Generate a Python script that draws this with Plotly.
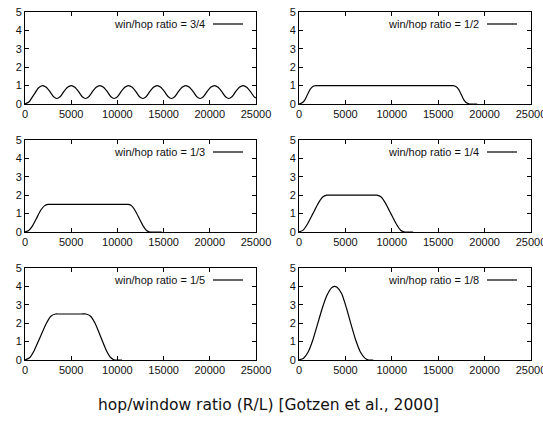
import plotly.graph_objects as go

# ---- data ----
labels = ["win/hop ratio = 3/4", "win/hop ratio = 1/2", "win/hop ratio = 1/3",
          "win/hop ratio = 1/4", "win/hop ratio = 1/5", "win/hop ratio = 1/8"]

x_34 = [0, 450, 950, 1450, 1900,
        2300, 2700, 3100, 3450, 3800, 4200, 4600, 5000,
        5400, 5800, 6200, 6550, 6900, 7300, 7700, 8100,
        8500, 8900, 9300, 9650, 10000, 10400, 10800, 11200,
        11600, 12000, 12400, 12750, 13100, 13500, 13900, 14300,
        14700, 15100, 15500, 15850, 16200, 16600, 17000, 17400,
        17800, 18200, 18600, 18950, 19300, 19700, 20100, 20500,
        20900, 21300, 21700, 22050, 22400, 22800, 23200, 23600,
        24000, 24400, 24800, 25000]
y_34 = [0, 0.12, 0.5, 0.87, 1.0,
        0.91, 0.67, 0.39, 0.3, 0.39, 0.67, 0.91, 1.0,
        0.91, 0.67, 0.39, 0.3, 0.39, 0.67, 0.91, 1.0,
        0.91, 0.67, 0.39, 0.3, 0.39, 0.67, 0.91, 1.0,
        0.91, 0.67, 0.39, 0.3, 0.39, 0.67, 0.91, 1.0,
        0.91, 0.67, 0.39, 0.3, 0.39, 0.67, 0.91, 1.0,
        0.91, 0.67, 0.39, 0.3, 0.39, 0.67, 0.91, 1.0,
        0.91, 0.67, 0.39, 0.3, 0.39, 0.67, 0.91, 1.0,
        0.91, 0.67, 0.39, 0.33]

x_12 = [0, 300, 600, 900, 1200, 1500, 1800, 2100, 2600, 16100, 16600, 16900, 17200, 17500, 17800, 18100, 18400, 18700, 19200]
y_12 = [0, 0.05, 0.2, 0.5, 0.8, 0.95, 1.0, 1.0, 1.0, 1.0, 1.0, 0.95, 0.8, 0.5, 0.2, 0.05, 0, 0, 0]

x_13 = [0, 400, 800, 1250, 1700, 2100, 2500, 2800, 3300, 10700, 11200, 11550, 11900, 12350, 12800, 13150, 13500, 13800, 14800]
y_13 = [0, 0.08, 0.32, 0.75, 1.18, 1.42, 1.5, 1.5, 1.5, 1.5, 1.5, 1.42, 1.18, 0.75, 0.32, 0.08, 0, 0, 0]

x_14 = [0, 450, 900, 1500, 2100, 2550, 3000, 3300, 3800, 7900, 8400, 8850, 9300, 9900, 10500, 10950, 11400, 11700, 12300]
y_14 = [0, 0.1, 0.42, 1.0, 1.58, 1.9, 2.0, 2.0, 2.0, 2.0, 2.0, 1.9, 1.58, 1.0, 0.42, 0.1, 0, 0, 0]

x_15 = [0, 500, 1000, 1650, 2300, 2800, 3300, 3600, 4100, 6100, 6600, 7100, 7600, 8200, 8800, 9300, 9700, 10000, 10500]
y_15 = [0, 0.12, 0.52, 1.25, 1.98, 2.38, 2.5, 2.5, 2.5, 2.5, 2.5, 2.38, 1.98, 1.25, 0.52, 0.12, 0, 0, 0]

x_18 = [0, 500, 1000, 1500, 2000, 2500, 3000, 3500, 3800, 4100, 4600, 5100, 5600, 6100, 6600, 7100, 7500, 8000]
y_18 = [0, 0.1, 0.45, 1.1, 1.95, 2.8, 3.5, 3.92, 4.0, 3.95, 3.6, 2.85, 1.95, 1.1, 0.45, 0.1, 0, 0]

series = [(x_34, y_34), (x_12, y_12), (x_13, y_13), (x_14, y_14), (x_15, y_15), (x_18, y_18)]

x_ticks = [0, 5000, 10000, 15000, 20000, 25000]
y_ticks = [0, 1, 2, 3, 4, 5]

# ---- layout geometry (pixels) ----
W, H = 543, 423
cols = [(25, 256), (299, 531)]
rows = [(12, 104), (140, 232), (268, 360)]

fig = go.Figure()
font_tick = dict(family="Liberation Sans, Arial, sans-serif", size=11, color="#111")

for i, (xs, ys) in enumerate(series):
    r, c = divmod(i, 2)
    n = "" if i == 0 else str(i + 1)
    fig.add_trace(go.Scatter(x=xs, y=ys, mode="lines",
                             line=dict(color="black", width=1.2, shape="spline", smoothing=0.5),
                             xaxis="x" + n, yaxis="y" + n, showlegend=False, hoverinfo="skip"))
    x0, x1 = cols[c]
    y0, y1 = rows[r]
    common = dict(showline=True, linecolor="black", linewidth=1, mirror="ticks", ticks="inside",
                  ticklen=4, tickcolor="black", showgrid=False, zeroline=False, tickfont=font_tick,
                  automargin=False, ticklabeloverflow="allow")
    fig.layout["xaxis" + n] = dict(domain=[x0 / W, x1 / W], range=[0, 25000], tickvals=x_ticks,
                                   ticktext=[str(v) for v in x_ticks], anchor="y" + n, **common)
    fig.layout["yaxis" + n] = dict(domain=[1 - y1 / H, 1 - y0 / H], range=[0, 5], tickvals=y_ticks,
                                   anchor="x" + n, **common)
    # legend-like key: text then line sample
    ty = y0 + 12
    fig.add_annotation(x=(x0 + 182) / W, y=1 - ty / H, xref="paper", yref="paper", text=labels[i],
                       showarrow=False, xanchor="right", yanchor="middle",
                       font=dict(family="Liberation Sans, Arial, sans-serif", size=11, color="#111"))
    fig.add_shape(type="line", xref="paper", yref="paper", x0=(x0 + 188) / W, x1=(x0 + 218) / W,
                  y0=1 - ty / H, y1=1 - ty / H, line=dict(color="black", width=1.2))

fig.add_annotation(x=268 / W, y=1 - 405 / H, xref="paper", yref="paper",
                   text="hop/window ratio (R/L) [Gotzen et al., 2000]", showarrow=False,
                   xanchor="center", yanchor="middle",
                   font=dict(family="DejaVu Sans, sans-serif", size=15.5, color="#111"))

fig.update_layout(width=W, height=H, margin=dict(l=0, r=0, t=0, b=0),
                  paper_bgcolor="white", plot_bgcolor="white", template="none")

fig.write_html("out.html")
